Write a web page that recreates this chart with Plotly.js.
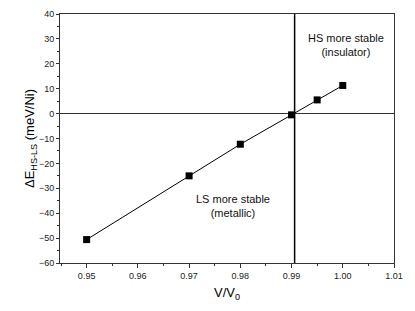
<!DOCTYPE html>
<html>
<head>
<meta charset="utf-8">
<script src="https://cdn.plot.ly/plotly-3.0.1.min.js"></script>
<style>html,body{margin:0;padding:0;background:#fff;}#chart{width:415px;height:311px;}</style>
</head>
<body>
<div id="chart"></div>
<script>
var volumeRatio = [0.95, 0.97, 0.98, 0.99, 0.995, 1.00];
var deltaE = [-50.6, -25.0, -12.3, -0.5, 5.5, 11.3];
var transitionV = 0.9906;
var xRange = [0.9448, 1.01];
var yRange = [-60, 40];

var trace = {
  x: volumeRatio,
  y: deltaE,
  mode: 'lines+markers',
  type: 'scatter',
  line: {color: '#000', width: 1},
  marker: {symbol: 'square', size: 7, color: '#000'},
  hoverinfo: 'none'
};

var axisFont = {family: 'Liberation Sans, Arial, sans-serif', size: 9, color: '#222'};

var layout = {
  width: 415, height: 311,
  margin: {l: 60, r: 21, t: 14, b: 48},
  paper_bgcolor: '#fff', plot_bgcolor: '#fff',
  showlegend: false,
  font: {family: 'Liberation Sans, Arial, sans-serif', color: '#000'},
  xaxis: {
    range: xRange, dtick: 0.01, tick0: 0.95, tickformat: '.2f',
    showgrid: false, zeroline: false,
    showline: true, linecolor: '#333', linewidth: 1, mirror: true,
    ticks: 'outside', ticklen: 4, tickcolor: '#333', tickwidth: 1,
    minor: {dtick: 0.005, ticks: 'outside', ticklen: 2, tickcolor: '#333', showgrid: false},
    tickfont: axisFont,
    title: {text: 'V/V<sub>0</sub>', font: {size: 13, color: '#000'}, standoff: 8}
  },
  yaxis: {
    range: yRange, dtick: 10,
    showgrid: false,
    zeroline: true, zerolinecolor: '#333', zerolinewidth: 1,
    showline: true, linecolor: '#333', linewidth: 1, mirror: true,
    ticks: 'outside', ticklen: 3, tickcolor: '#333', tickwidth: 1,
    minor: {dtick: 5, ticks: 'outside', ticklen: 2, tickcolor: '#333', showgrid: false},
    tickfont: axisFont,
    title: {text: '\u0394E<sub>HS-LS</sub> (meV/Ni)', font: {size: 13, color: '#000'}, standoff: 1}
  },
  shapes: [{
    type: 'line', xref: 'x', yref: 'paper',
    x0: transitionV, x1: transitionV, y0: 0, y1: 1,
    line: {color: '#000', width: 1.5}
  }],
  annotations: [
    {x: 1.00072, y: 27.7, xref: 'x', yref: 'y', showarrow: false,
     text: 'HS more stable<br>(insulator)', align: 'center',
     font: {size: 11, color: '#111'}},
    {x: 0.97856, y: -37, xref: 'x', yref: 'y', showarrow: false,
     text: 'LS more stable<br>(metallic)', align: 'center',
     font: {size: 11, color: '#111'}}
  ]
};

Plotly.newPlot('chart', [trace], layout, {staticPlot: true, displayModeBar: false});
</script>
</body>
</html>
